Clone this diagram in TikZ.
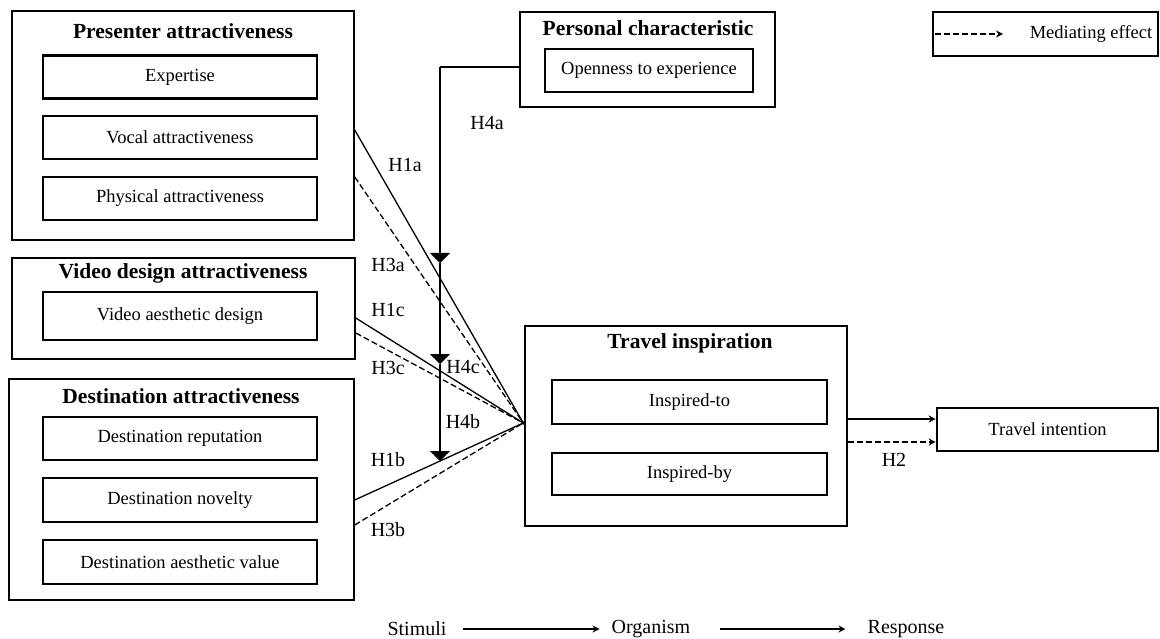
\documentclass[tikz,border=0pt]{standalone}
\usepackage{fontspec}
\setmainfont{Liberation Serif}
\usetikzlibrary{arrows.meta,calc}
\newcommand\titlefont{\fontsize{21.5}{24}\selectfont\bfseries}
\newcommand\bodyfont{\fontsize{18.5}{21}\selectfont}
\newcommand\labfont{\fontsize{20}{22}\selectfont}
\begin{document}
\begin{tikzpicture}[x=1pt,y=-1pt,
  outerbox/.style={draw,line width=1.5pt,inner sep=0pt},
  innerbox/.style={draw,line width=2.6pt,inner sep=0pt,minimum height=43pt,font=\bodyfont},
  titletext/.style={inner sep=0pt,font=\titlefont},
  hlab/.style={inner sep=0pt,font=\labfont},
  conn/.style={line width=1.3pt},
  medi/.style={line width=1.3pt,dash pattern=on 6pt off 3pt},
  modtip/.style={line width=1.3pt,-{Triangle[width=20pt,length=10pt]}},
  smalltip/.style={-{Stealth[length=7pt,width=7pt]}}
]
\useasboundingbox (0,0) rectangle (1160,639);

% Presenter attractiveness
\node[outerbox,minimum width=342pt,minimum height=229pt] (pres) at (183,125.5) {};
\node[titletext] (prest) at (183,31) {Presenter attractiveness};
\node[innerbox,minimum width=274pt] (expe) at (180,77) {Expertise};
\node[innerbox,minimum width=274pt] (voca) at (180,137.5) {Vocal attractiveness};
\node[innerbox,minimum width=274pt] (phys) at (180,198.5) {Physical attractiveness};

% Video design attractiveness
\node[outerbox,minimum width=343pt,minimum height=101pt] (vid) at (183.5,308.5) {};
\node[titletext] (vidt) at (183,273) {Video design attractiveness};
\node[innerbox,minimum width=274pt,minimum height=48pt] (vaes) at (180,316) {Video aesthetic design};

% Destination attractiveness
\node[outerbox,minimum width=345pt,minimum height=221pt] (dest) at (181.5,489.5) {};
\node[titletext] (destt) at (181,396) {Destination attractiveness};
\node[innerbox,minimum width=274pt] (drep) at (180,438.5) {Destination reputation};
\node[innerbox,minimum width=274pt,minimum height=44pt] (dnov) at (180,500) {Destination novelty};
\node[innerbox,minimum width=274pt,minimum height=44pt] (daes) at (180,562) {Destination aesthetic value};

% Personal characteristic
\node[outerbox,minimum width=255pt,minimum height=95pt] (pers) at (647.5,59.5) {};
\node[titletext] (perst) at (648,28) {Personal characteristic};
\node[innerbox,minimum width=208pt] (open) at (649,70.5) {Openness to experience};

% Legend
\node[draw,line width=2.6pt,inner sep=0pt,minimum width=225pt,minimum height=44pt] (leg) at (1045.5,34) {};
\coordinate (legs) at (935,34);
\coordinate (lege) at (1003,34);
\draw[medi,smalltip] (legs) -- (lege);
\node[inner sep=0pt,font=\bodyfont] (legt) at (1091,34) {Mediating effect};

% Travel inspiration
\node[outerbox,minimum width=322pt,minimum height=200pt] (insp) at (686,426) {};
\node[titletext] (inspt) at (690,343) {Travel inspiration};
\node[innerbox,minimum width=275pt,minimum height=44pt] (into) at (689.5,402) {Inspired-to};
\node[innerbox,minimum width=275pt,minimum height=42pt] (inby) at (689.5,474) {Inspired-by};

% Travel intention
\node[innerbox,minimum width=221pt] (intent) at (1047.5,429.5) {Travel intention};

% Convergence point
\coordinate (conv) at ($(insp.west)+(-1,-3)$);

% Paths into Travel inspiration
\draw[conn] ($(pres.east)+(0,4.5)$) -- (conv);
\draw[medi] ($(pres.east)+(0,51.5)$) -- (conv);
\draw[conn] ($(vid.east)+(0,9.5)$) -- (conv);
\draw[medi] ($(vid.east)+(0,24.5)$) -- (conv);
\draw[conn] ($(dest.east)+(0,10.5)$) -- (conv);
\draw[medi] ($(dest.east)+(0,35.5)$) -- (conv);
\fill (conv) circle (1.8pt);

% Moderation line
\coordinate (mtop) at (440,67);
\coordinate (m1) at (440,263);
\coordinate (m2) at (440,364);
\coordinate (m3) at (440,461);
\draw[conn] ($(pers.west)+(0,7.5)$) -- (mtop);
\draw[modtip] (mtop) -- (m1);
\draw[modtip] (m1) -- (m2);
\draw[modtip] (m2) -- (m3);

% Paths to Travel intention
\draw[conn,smalltip] ($(insp.east)+(0,-7)$) -- ($(intent.west)+(0,-10.5)$);
\draw[medi,smalltip] ($(insp.east)+(0,16)$) -- ($(intent.west)+(0,12.5)$);

% Hypothesis labels
\node[hlab] (h4a) at (487,123) {H4a};
\node[hlab] (h1a) at (405,165) {H1a};
\node[hlab] (h3a) at (388,265) {H3a};
\node[hlab] (h1c) at (388,310) {H1c};
\node[hlab] (h3c) at (388,368) {H3c};
\node[hlab] (h4c) at (463,367) {H4c};
\node[hlab] (h4b) at (463,422) {H4b};
\node[hlab] (h1b) at (388,460) {H1b};
\node[hlab] (h3b) at (388,530) {H3b};
\node[hlab] (h2) at (894,460) {H2};

% S-O-R
\node[hlab] (stim) at (417,629) {Stimuli};
\node[hlab] (org) at (651,629) {Organism};
\node[hlab] (resp) at (906,629) {Response};
\draw[conn,smalltip,shorten <=16pt,shorten >=12pt] (stim.east) -- (org.west);
\draw[conn,smalltip,shorten <=30pt,shorten >=22pt] (org.east) -- (resp.west);
\end{tikzpicture}
\end{document}
